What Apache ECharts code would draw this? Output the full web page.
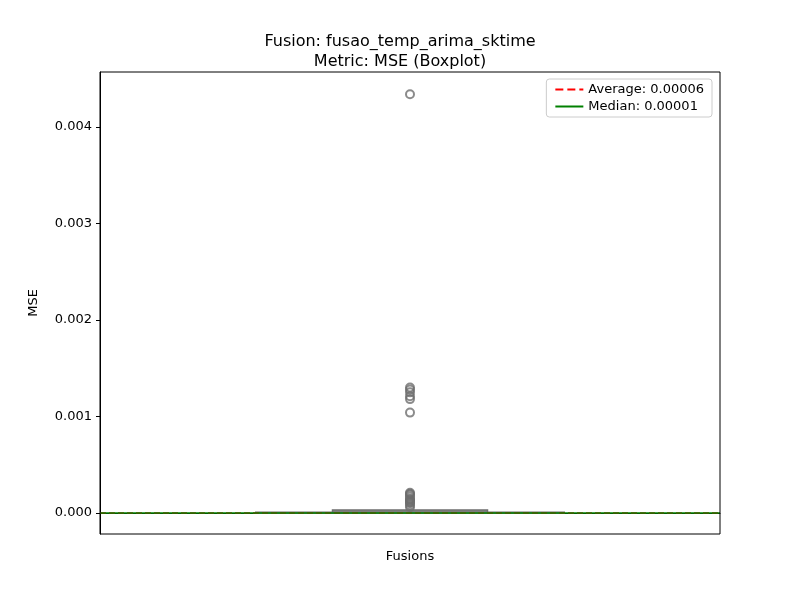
<!DOCTYPE html>
<html><head><meta charset="utf-8">
<script src="https://cdn.jsdelivr.net/npm/echarts@6/dist/echarts.min.js"></script>
</head><body style="margin:0">
<div id="chart" style="width:800px;height:600px"></div>
<script>
const categories = ['Fusions']
// box stats: lower whisker, q1, median, q3, upper whisker
const boxStats = [0, 0.000001, 0.000005, 0.00003, 0.000006]
const outliers = [0.00434, 0.0013, 0.00128, 0.00125, 0.00121, 0.00118, 0.00104,
  0.00021, 0.0002, 0.00019, 0.00017, 0.00015, 0.00014, 0.00013, 0.00012, 0.00011, 0.0001, 0.00008, 0.00006]
const averageValue = 0.00006
const medianValue = 0.00001
const yTicks = [0, 0.001, 0.002, 0.003, 0.004]

let chart = echarts.init(document.getElementById('chart'))
let gray = '#6e6e6e'
chart.setOption({
  animation: false,
  title: {
    text: 'Fusion: fusao_temp_arima_sktime\nMetric: MSE (Boxplot)',
    left: 'center', top: 27,
    textStyle: { fontSize: 16, fontWeight: 'normal', color: '#000', lineHeight: 20, fontFamily: 'DejaVu Sans' }
  },
  legend: {
    right: 88, top: 79, orient: 'vertical', itemGap: 4, itemWidth: 28,
    borderColor: '#ccc', borderWidth: 1, borderRadius: 3, padding: [4, 8],
    textStyle: { fontSize: 13, color: '#000', fontFamily: 'DejaVu Sans' },
    itemStyle: { opacity: 0 },
    data: ['Average: 0.00006', 'Median: 0.00001']
  },
  grid: { left: 100, right: 80, top: 72, bottom: 66 },
  graphic: [{ type: 'rect', shape: { x: 100, y: 72, width: 620, height: 462 },
    style: { fill: null, stroke: '#000', lineWidth: 1 }, silent: true, z: 100 }],
  xAxis: {
    type: 'category', data: categories,
    axisLine: { lineStyle: { color: '#000' } }, axisTick: { show: false },
    axisLabel: { color: '#000', fontSize: 13, margin: 16, fontFamily: 'DejaVu Sans' }
  },
  yAxis: {
    type: 'value', min: -0.000218, max: 0.00457,
    name: 'MSE', nameLocation: 'middle', nameGap: 60,
    nameTextStyle: { color: '#000', fontSize: 13, fontFamily: 'DejaVu Sans' },
    splitLine: { show: false },
    axisLine: { show: true, lineStyle: { color: '#000' } },
    axisTick: { show: true, length: 4, customValues: yTicks },
    axisLabel: {
      color: '#000', fontSize: 13, fontFamily: 'DejaVu Sans',
      customValues: yTicks, formatter: v => v.toFixed(3)
    }
  },
  series: [
    {
      type: 'custom', silent: true,
      data: [[0].concat(boxStats)],
      renderItem: (params, api) => {
        let w = api.size([1, 0])[0]
        let cx = api.coord([0, 0])[0]
        let y = i => api.coord([0, api.value(i)])[1]
        let bh = w * 0.125, ch = w * 0.25
        let st = { stroke: gray, lineWidth: 2, fill: null }
        return { type: 'group', children: [
          { type: 'line', shape: { x1: cx - ch, y1: y(1), x2: cx + ch, y2: y(1) }, style: st },
          { type: 'line', shape: { x1: cx - ch, y1: y(5), x2: cx + ch, y2: y(5) }, style: st },
          { type: 'rect', shape: { x: cx - bh, y: y(4), width: 2 * bh, height: y(2) - y(4) },
            style: { stroke: gray, lineWidth: 1.5, fill: '#8c8c8c' } },
          { type: 'line', shape: { x1: cx - bh, y1: y(3), x2: cx + bh, y2: y(3) }, style: st }
        ] }
      }
    },
    {
      type: 'scatter', silent: true, symbol: 'circle', symbolSize: 8, z: 3,
      itemStyle: { color: 'rgba(0,0,0,0)', borderColor: gray, borderWidth: 2 },
      data: outliers.map(v => [categories[0], v])
    },
    {
      name: 'Average: 0.00006', type: 'line', data: [], symbol: 'none', z: 5,
      lineStyle: { color: '#ff0000', type: 'dashed', width: 1.5 }, itemStyle: { color: '#ff0000' },
      markLine: { silent: true, symbol: 'none', label: { show: false },
        lineStyle: { color: '#ff0000', type: 'dashed', width: 1.5 }, data: [{ yAxis: averageValue }] }
    },
    {
      name: 'Median: 0.00001', type: 'line', data: [], symbol: 'none', z: 5,
      lineStyle: { color: '#008000', width: 1.5 }, itemStyle: { color: '#008000' },
      markLine: { silent: true, symbol: 'none', label: { show: false },
        lineStyle: { color: '#008000', type: 'solid', width: 1.5 }, data: [{ yAxis: medianValue }] }
    }
  ]
})
</script>
</body></html>
